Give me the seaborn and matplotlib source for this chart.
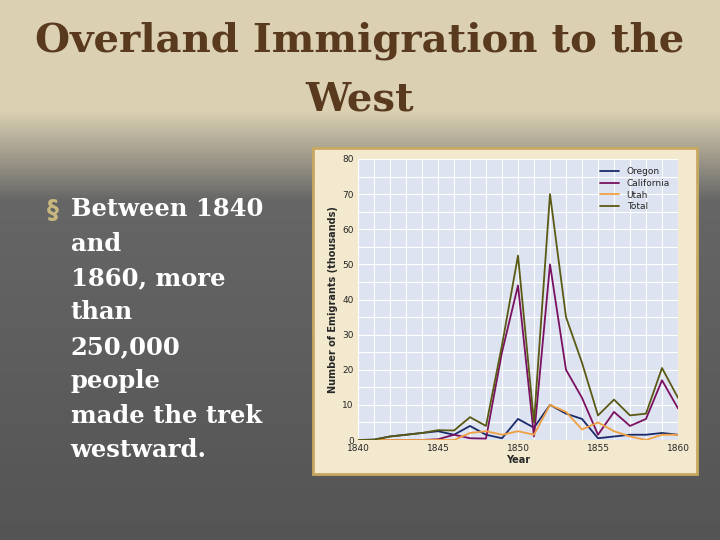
import numpy as np
import pandas as pd
import matplotlib
matplotlib.use("Agg")
import matplotlib.pyplot as plt
import seaborn as sns
from matplotlib.patches import Rectangle

years = list(range(1840, 1861))
oregon = [0, 0.1, 1, 1.5, 2, 2.5, 1.5, 4, 1.5, 0.5, 6, 3.5, 10, 7.5, 6, 0.5, 1, 1.5, 1.5, 2, 1.5]
california = [0, 0, 0, 0, 0, 0.2, 1.5, 0.5, 0.4, 25, 44, 1, 50, 20, 12, 1.5, 8, 4, 6, 17, 9]
utah = [0, 0, 0, 0, 0, 0, 0, 2, 2.5, 1.5, 2.5, 1.5, 10, 8, 3, 5, 2.5, 1, 0, 1.5, 1.5]
total = [0, 0.1, 1, 1.5, 2, 2.8, 2.7, 6.5, 4, 27, 52.5, 5, 70, 35, 22, 7, 11.5, 7, 7.5, 20.5, 12]
series_names = ["Oregon", "California", "Utah", "Total"]
colors = {"Oregon": "#1a2a6a", "California": "#7a1060", "Utah": "#f0a040", "Total": "#5a5a14"}

df = pd.DataFrame({"Year": years, "Oregon": oregon, "California": california,
                   "Utah": utah, "Total": total}).melt("Year", var_name="Series", value_name="Value")

sns.set_theme(style="white")
fig = plt.figure(figsize=(7.2, 5.4), dpi=100)

# slide background
bg = fig.add_axes([0, 0, 1, 1], zorder=0)
h = 540
grad = np.zeros((h, 1, 3))
top = np.array([0.86, 0.82, 0.70])
mid = np.array([0.40, 0.40, 0.40])
bot = np.array([0.33, 0.33, 0.33])
for i in range(h):
    if i < 110:
        c = top
    elif i < 200:
        t = (i - 110) / 90
        c = top * (1 - t) + mid * t
    else:
        t = (i - 200) / 340
        c = mid * (1 - t) + bot * t
    grad[i, 0] = c
bg.imshow(grad, aspect="auto", extent=[0, 1, 0, 1])
bg.set_xlim(0, 1)
bg.set_ylim(0, 1)
bg.set_axis_off()
# chart frame (drawn inside background axes so it stays behind the chart)
bg.add_patch(Rectangle((313 / 720, 1 - 474 / 540), (697 - 313) / 720, (474 - 148) / 540,
                       facecolor="#f3e9cf", edgecolor="#c8a860", lw=2, zorder=5))

fig.text(0.5, 0.925, "Overland Immigration to the", ha="center", va="center",
         fontsize=29, fontweight="bold", family="DejaVu Serif", color="#5a3a1e")
fig.text(0.5, 0.815, "West", ha="center", va="center",
         fontsize=29, fontweight="bold", family="DejaVu Serif", color="#5a3a1e")
fig.text(0.065, 0.612, "§", ha="left", va="center", fontsize=17, color="#c8b880", fontweight="bold")
fig.text(0.098, 0.635,
         "Between 1840\nand\n1860, more\nthan\n250,000\npeople\nmade the trek\nwestward.",
         ha="left", va="top", fontsize=17.5, fontweight="bold", family="DejaVu Serif",
         color="white", linespacing=1.55)

ax = fig.add_axes([358 / 720, 1 - 440 / 540, (678 - 358) / 720, (440 - 159) / 540], zorder=2)
ax.set_facecolor("#dde3f0")
sns.lineplot(data=df, x="Year", y="Value", hue="Series", hue_order=series_names,
             palette=colors, ax=ax, lw=1.3)
ax.set_xlim(1840, 1860)
ax.set_ylim(0, 80)
ax.set_xticks([1840, 1845, 1850, 1855, 1860])
ax.set_yticks(range(0, 81, 10))
ax.set_xticks(range(1840, 1861), minor=True)
ax.set_yticks(range(0, 81, 5), minor=True)
ax.grid(True, which="both", color="white", lw=0.8)
ax.set_axisbelow(True)
for s in ax.spines.values():
    s.set_visible(False)
ax.tick_params(labelsize=6.5, length=0, pad=3)
ax.set_xlabel("Year", fontsize=7, fontweight="bold", labelpad=1)
ax.set_ylabel("Number of Emigrants (thousands)", fontsize=7, fontweight="bold", labelpad=3)
leg = ax.legend(loc="upper right", fontsize=6.5, frameon=False, handlelength=2.2,
                labelspacing=0.3)

fig.savefig("out.png", dpi=100)
